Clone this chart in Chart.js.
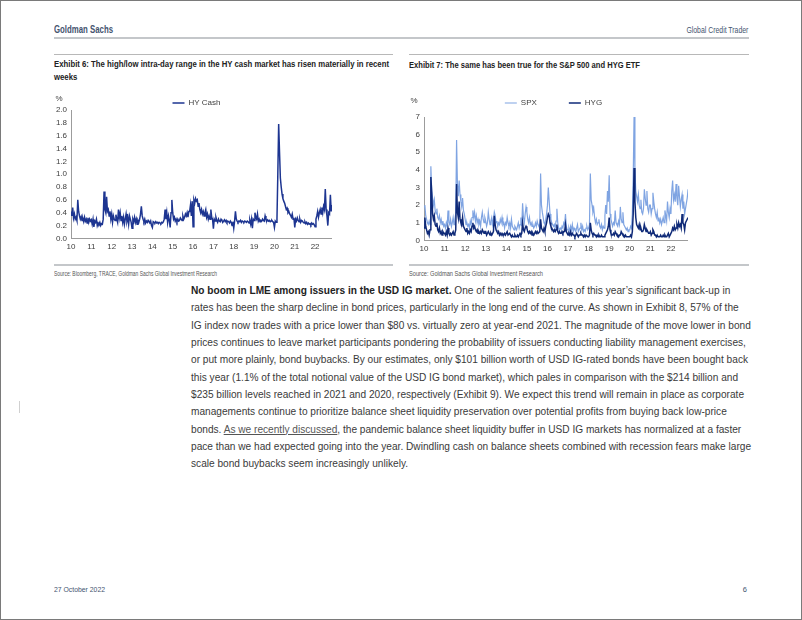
<!DOCTYPE html>
<html>
<head>
<meta charset="utf-8">
<script src="https://cdn.jsdelivr.net/npm/chart.js@4.4.0/dist/chart.umd.min.js"></script>
<style>
  html, body { margin: 0; padding: 0; background: #fff; }
  #page {
    position: relative; width: 802px; height: 620px; box-sizing: border-box;
    border: 1px solid #7a7a7a; overflow: hidden;
    font-family: "Liberation Sans", Arial, sans-serif; color: #333;
  }
  .abs { position: absolute; white-space: nowrap; }
  .slate { color: #44546f; }
  .rule { position: absolute; background: #c4c7ca; }
  .title { font-weight: bold; font-size: 9px; line-height: 13px; color: #222; }
  .source { font-size: 6.4px; color: #555; }
  #body { left: 190px; top: 281px; font-size: 10.15px; line-height: 17.35px; color: #3a3a3a; }
  #body u { color: #555; }
  .chartbox { position: absolute; }
</style>
</head>
<body>
<div id="page">
  <div class="abs slate" data-fit="59" style="left:53px; top:22px; font-size:11.5px; font-weight:bold;">Goldman Sachs</div>
  <div class="abs slate" data-fit="62" data-origin="right top" style="right:53px; top:24px; font-size:8.6px;">Global Credit Trader</div>
  <div class="rule" style="left:53px; top:36px; width:695px; height:2px;"></div>

  <div class="rule" style="left:53px; top:53px; width:339px; height:1px; background:#b8b8b8;"></div>
  <div class="rule" style="left:408px; top:53px; width:340px; height:1px; background:#b8b8b8;"></div>

  <div class="abs title" data-fit="335" style="left:53px; top:57px;">Exhibit 6: The high/low intra-day range in the HY cash market has risen materially in recent<br>weeks</div>
  <div class="abs title" data-fit="231" style="left:408px; top:58px;">Exhibit 7: The same has been true for the S&amp;P 500 and HYG ETF</div>

  <div class="chartbox" style="left:40px; top:88px; width:291px; height:170px;"><canvas id="hyChart"></canvas></div>
  <div class="chartbox" style="left:400px; top:60px; width:287px; height:200px;"><canvas id="etfChart"></canvas></div>

  <div class="rule" style="left:53px; top:263px; width:339px; height:2px;"></div>
  <div class="rule" style="left:408px; top:263px; width:340px; height:2px;"></div>
  <div class="abs source" data-fit="163" style="left:53px; top:269px;">Source: Bloomberg, TRACE, Goldman Sachs Global Investment Research</div>
  <div class="abs source" data-fit="134" style="left:408px; top:269px;">Source: Goldman Sachs Global Investment Research</div>

  <div id="body" class="abs"><b style="color:#222;">No boom in LME among issuers in the USD IG market.</b> One of the salient features of this year’s significant back-up in<br>rates has been the sharp decline in bond prices, particularly in the long end of the curve. As shown in Exhibit 8, 57% of the<br>IG index now trades with a price lower than $80 vs. virtually zero at year-end 2021. The magnitude of the move lower in bond<br>prices continues to leave market participants pondering the probability of issuers conducting liability management exercises,<br>or put more plainly, bond buybacks. By our estimates, only $101 billion worth of USD IG-rated bonds have been bought back<br>this year (1.1% of the total notional value of the USD IG bond market), which pales in comparison with the $214 billion and<br>$235 billion levels reached in 2021 and 2020, respectively (Exhibit 9). We expect this trend will remain in place as corporate<br>managements continue to prioritize balance sheet liquidity preservation over potential profits from buying back low-price<br>bonds. <u>As we recently discussed</u>, the pandemic balance sheet liquidity buffer in USD IG markets has normalized at a faster<br>pace than we had expected going into the year. Dwindling cash on balance sheets combined with recession fears make large<br>scale bond buybacks seem increasingly unlikely.</div>

  <div class="rule" style="left:18px; top:400px; width:1px; height:12px; background:#d0d0d0;"></div>

  <div class="abs slate" data-fit="51" style="left:53px; top:584px; font-size:7.5px;">27 October 2022</div>
  <div class="abs slate" style="right:54px; top:584px; font-size:7.5px;">6</div>
</div>

<script>
// x axis: years 2010..2022, two observations per month (half-monthly)
const yearTicks = [10, 11, 12, 13, 14, 15, 16, 17, 18, 19, 20, 21, 22];
const hyTicks = [0, 0.2, 0.4, 0.6, 0.8, 1.0, 1.2, 1.4, 1.6, 1.8, 2.0];
const etfTicks = [0, 1, 2, 3, 4, 5, 6, 7];

// Exhibit 6: HY cash high/low intra-day range, %
const hyCash = [
  0.42, 0.35, 0.48, 0.32, 0.38, 0.3, 0.33, 0.28, 0.6, 0.42, 0.35, 0.3, 0.34, 0.28, 0.31, 0.26, 0.33, 0.27, 0.3, 0.24, 0.32, 0.25, 0.3, 0.27, // 2010
  0.29, 0.22, 0.3, 0.18, 0.27, 0.25, 0.3, 0.2, 0.24, 0.22, 0.25, 0.2, 0.23, 0.22, 0.3, 0.73, 0.45, 0.4, 0.65, 0.42, 0.45, 0.35, 0.42, 0.3, // 2011
  0.38, 0.25, 0.35, 0.3, 0.28, 0.37, 0.3, 0.25, 0.45, 0.32, 0.4, 0.28, 0.35, 0.25, 0.33, 0.22, 0.3, 0.38, 0.27, 0.33, 0.22, 0.35, 0.3, 0.25, // 2012
  0.16, 0.3, 0.26, 0.33, 0.25, 0.3, 0.22, 0.28, 0.25, 0.3, 0.38, 0.5, 0.35, 0.3, 0.26, 0.3, 0.24, 0.27, 0.25, 0.28, 0.26, 0.24, 0.27, 0.2, // 2013
  0.17, 0.26, 0.25, 0.24, 0.26, 0.24, 0.25, 0.23, 0.25, 0.24, 0.23, 0.25, 0.24, 0.26, 0.3, 0.45, 0.3, 0.4, 0.25, 0.35, 0.28, 0.17, 0.4, 0.6, // 2014
  0.4, 0.3, 0.33, 0.27, 0.3, 0.26, 0.3, 0.27, 0.28, 0.32, 0.3, 0.28, 0.35, 0.3, 0.33, 0.38, 0.35, 0.4, 0.33, 0.42, 0.42, 0.52, 0.35, 0.58, // 2015
  0.18, 0.6, 0.55, 0.62, 0.58, 0.6, 0.5, 0.55, 0.45, 0.4, 0.45, 0.38, 0.42, 0.35, 0.4, 0.45, 0.33, 0.38, 0.3, 0.35, 0.3, 0.45, 0.33, 0.3, // 2016
  0.15, 0.3, 0.27, 0.33, 0.28, 0.25, 0.3, 0.27, 0.26, 0.3, 0.28, 0.25, 0.27, 0.29, 0.26, 0.28, 0.25, 0.27, 0.26, 0.24, 0.27, 0.25, 0.2, 0.26, // 2017
  0.16, 0.27, 0.42, 0.3, 0.27, 0.25, 0.27, 0.26, 0.28, 0.25, 0.27, 0.26, 0.25, 0.27, 0.26, 0.25, 0.27, 0.26, 0.24, 0.28, 0.22, 0.3, 0.16, 0.3, // 2018
  0.28, 0.4, 0.33, 0.3, 0.38, 0.27, 0.3, 0.26, 0.28, 0.27, 0.3, 0.28, 0.27, 0.35, 0.3, 0.27, 0.29, 0.27, 0.28, 0.26, 0.27, 0.28, 0.26, 0.25, // 2019
  0.17, 0.27, 0.25, 0.3, 1.0, 1.78, 1.35, 0.94, 0.8, 0.69, 0.62, 0.58, 0.55, 0.5, 0.45, 0.47, 0.4, 0.42, 0.38, 0.36, 0.33, 0.38, 0.3, 0.32, // 2020
  0.17, 0.3, 0.27, 0.32, 0.28, 0.26, 0.3, 0.25, 0.28, 0.27, 0.25, 0.24, 0.26, 0.23, 0.25, 0.22, 0.24, 0.22, 0.23, 0.21, 0.24, 0.22, 0.23, 0.21, // 2021
  0.18, 0.3, 0.35, 0.42, 0.33, 0.4, 0.45, 0.38, 0.48, 0.4, 0.5, 0.45, 0.77, 0.45, 0.35, 0.2, 0.4, 0.38, 0.68, 0.42, 0.52 // 2022 to Oct
];

// Exhibit 7: intra-day range, %
const spx = [
  1.9, 2.0, 1.4, 1.2, 1.0, 0.9, 1.1, 0.9, 4.2, 2.8, 2.4, 2.0, 2.3, 1.7, 1.5, 1.8, 1.3, 1.2, 1.4, 1.0, 1.2, 0.9, 1.1, 0.8, // 2010
  0.9, 0.7, 1.0, 0.8, 1.7, 1.0, 0.9, 1.2, 0.8, 1.0, 1.3, 0.9, 1.2, 1.5, 5.7, 3.2, 2.5, 3.4, 2.6, 2.2, 1.9, 2.4, 1.7, 1.5, // 2011
  1.2, 0.9, 1.0, 0.8, 0.9, 0.7, 1.1, 0.9, 1.3, 1.7, 1.3, 1.6, 1.1, 1.4, 1.0, 1.2, 0.9, 1.1, 0.8, 1.3, 1.6, 1.2, 1.0, 1.3, // 2012
  1.1, 0.8, 1.0, 1.6, 1.2, 0.9, 1.1, 1.3, 0.9, 1.2, 1.6, 1.4, 1.0, 1.1, 0.8, 1.0, 0.9, 1.2, 1.0, 1.3, 0.9, 1.0, 0.7, 1.0, // 2013
  0.9, 1.3, 1.0, 0.8, 1.0, 0.7, 1.2, 0.8, 0.7, 0.6, 0.8, 0.7, 0.6, 0.8, 1.0, 0.7, 0.9, 1.3, 0.8, 2.1, 1.3, 1.0, 1.5, 1.9, // 2014
  1.6, 1.2, 1.0, 1.3, 0.9, 1.0, 0.8, 0.9, 0.7, 0.8, 1.0, 0.8, 1.1, 0.9, 0.8, 0.7, 3.8, 2.0, 1.6, 1.3, 1.0, 0.9, 1.2, 1.5, // 2015
  2.0, 3.0, 2.2, 1.5, 1.2, 1.0, 0.9, 0.8, 0.9, 0.7, 1.1, 1.8, 1.0, 0.7, 0.6, 0.7, 0.6, 0.8, 0.7, 1.0, 0.9, 1.5, 0.8, 0.6, // 2016
  0.6, 0.7, 0.5, 0.8, 0.6, 0.9, 0.5, 0.7, 0.6, 0.5, 0.7, 0.9, 0.5, 0.6, 0.7, 1.0, 0.6, 0.8, 0.5, 0.6, 0.5, 0.7, 0.8, 0.6, // 2017
  0.7, 0.9, 3.8, 2.3, 2.0, 1.6, 1.8, 1.3, 1.0, 1.2, 0.9, 1.0, 1.2, 0.8, 0.7, 0.9, 0.6, 0.8, 0.7, 1.4, 2.0, 1.5, 2.8, 2.2, // 2018
  3.7, 1.5, 1.2, 1.0, 0.8, 1.0, 0.9, 1.7, 1.0, 0.9, 0.8, 1.1, 0.9, 1.9, 1.2, 1.0, 1.6, 0.9, 0.8, 0.7, 0.6, 0.7, 0.5, 0.6, // 2019
  0.6, 0.8, 0.7, 1.5, 3.5, 7.0, 4.0, 2.8, 2.5, 2.2, 2.6, 2.0, 1.8, 2.3, 1.6, 1.5, 1.8, 2.9, 2.4, 2.0, 2.8, 1.8, 1.6, 2.0, // 2020
  2.0, 1.5, 1.8, 2.7, 2.2, 1.8, 1.5, 1.3, 1.6, 1.1, 1.3, 1.0, 1.2, 0.9, 1.1, 1.3, 1.0, 1.7, 1.4, 1.1, 2.2, 1.6, 1.3, 1.8, // 2021
  1.5, 2.8, 3.4, 2.3, 2.6, 2.2, 3.2, 2.4, 2.0, 3.1, 2.5, 1.9, 2.3, 2.6, 1.8, 2.2, 1.5, 1.8, 2.1, 2.4, 2.9 // 2022 to Oct
];

const hyg = [
  0.7, 1.3, 0.8, 0.6, 0.4, 0.5, 0.3, 0.6, 3.6, 2.7, 1.5, 1.2, 1.4, 0.9, 0.8, 1.0, 0.6, 0.5, 0.7, 0.4, 0.5, 0.3, 0.5, 0.4, // 2010
  0.4, 0.3, 0.5, 0.3, 0.7, 0.4, 0.3, 0.4, 0.3, 0.4, 0.5, 0.3, 0.4, 0.6, 3.2, 1.6, 1.3, 2.2, 1.2, 1.0, 0.9, 1.3, 0.8, 0.7, // 2011
  0.6, 0.5, 0.7, 0.4, 0.5, 0.4, 0.6, 0.5, 0.8, 1.0, 0.7, 0.8, 0.6, 0.5, 0.6, 0.4, 0.5, 0.4, 0.5, 0.4, 0.6, 0.5, 0.4, 0.5, // 2012
  0.5, 0.3, 0.4, 0.5, 0.4, 0.3, 0.4, 0.3, 0.4, 0.5, 1.4, 0.9, 0.6, 0.5, 0.4, 0.5, 0.3, 0.4, 0.3, 0.4, 0.3, 0.3, 0.4, 0.3, // 2013
  0.4, 0.5, 0.3, 0.3, 0.4, 0.3, 0.2, 0.3, 0.2, 0.2, 0.3, 0.2, 0.2, 0.3, 0.2, 0.3, 0.4, 0.3, 0.4, 1.0, 0.6, 0.5, 0.7, 0.8, // 2014
  0.7, 0.5, 0.4, 0.5, 0.4, 0.5, 0.3, 0.4, 0.3, 0.4, 0.5, 0.4, 0.5, 0.4, 0.4, 0.5, 1.2, 0.7, 0.6, 0.5, 0.7, 0.5, 0.8, 1.0, // 2015
  1.3, 1.5, 1.4, 1.0, 0.8, 0.7, 0.6, 0.5, 0.6, 0.5, 0.6, 0.9, 0.5, 0.4, 0.5, 0.4, 0.4, 0.5, 0.4, 0.5, 0.5, 0.9, 0.5, 0.4, // 2016
  0.3, 0.4, 0.3, 0.5, 0.3, 0.4, 0.3, 0.3, 0.2, 0.3, 0.4, 0.3, 0.2, 0.3, 0.3, 0.4, 0.3, 0.3, 0.2, 0.3, 0.2, 0.3, 0.3, 0.2, // 2017
  0.2, 0.3, 1.0, 0.6, 0.4, 0.3, 0.4, 0.3, 0.3, 0.2, 0.3, 0.2, 0.3, 0.2, 0.2, 0.3, 0.2, 0.2, 0.2, 0.3, 0.4, 0.5, 0.6, 0.8, // 2018
  1.3, 0.6, 0.4, 0.3, 0.3, 0.4, 0.3, 0.5, 0.4, 0.3, 0.3, 0.2, 0.3, 0.3, 0.5, 0.4, 0.3, 0.3, 0.2, 0.3, 0.2, 0.2, 0.2, 0.2, // 2019
  0.2, 0.3, 0.2, 0.5, 1.5, 4.1, 2.2, 1.3, 0.9, 0.8, 0.7, 0.9, 0.6, 0.7, 0.5, 0.5, 0.6, 0.9, 0.7, 0.5, 0.6, 0.5, 0.4, 0.4, // 2020
  0.5, 0.3, 0.4, 0.6, 0.5, 0.3, 0.3, 0.2, 0.3, 0.2, 0.2, 0.2, 0.3, 0.2, 0.2, 0.3, 0.2, 0.3, 0.2, 0.2, 0.3, 0.4, 0.2, 0.3, // 2021
  0.3, 0.5, 0.7, 0.6, 0.8, 0.6, 0.7, 0.9, 0.7, 1.0, 0.8, 0.9, 0.7, 1.5, 1.0, 0.9, 0.6, 1.0, 1.1, 1.2, 1.3 // 2022 to Oct
];

// squeeze the report's condensed headings to the widths they take in the original
document.querySelectorAll('[data-fit]').forEach((el) => {
  const w = el.getBoundingClientRect().width;
  el.style.transformOrigin = el.dataset.origin || 'left top';
  el.style.transform = `scaleX(${Number(el.dataset.fit) / w})`;
});

const periods = hyCash.map((_, i) => yearTicks[0] + i / 24);
const toPoints = (values) => values.map((v, i) => ({ x: periods[i], y: v }));

const tickFont = { family: '"Liberation Sans", Arial, sans-serif', size: 8 };
const tickColor = '#404040';
const axisColor = '#9c9c9c';

// draws the "%" unit above the y axis
const unitLabel = {
  id: 'unitLabel',
  afterDraw(chart, args, opts) {
    const { ctx, chartArea } = chart;
    ctx.save();
    ctx.font = '8px "Liberation Sans", Arial, sans-serif';
    ctx.fillStyle = tickColor;
    ctx.textAlign = 'center';
    ctx.textBaseline = 'middle';
    ctx.fillText(opts.text, chartArea.left + opts.dx, chartArea.top + opts.dy);
    ctx.restore();
  },
};

// moves the legend: trims its height and nudges it sideways
function nudgeLegend(dh, dx) {
  return {
    id: 'nudgeLegend',
    beforeInit(chart) {
      const fit = chart.legend.fit;
      chart.legend.fit = function () {
        fit.call(this);
        this.height -= dh;
      };
    },
    afterLayout(chart) {
      chart.legend.left += dx;
      chart.legend.right += dx;
    },
  };
}

function xAxis() {
  return {
    type: 'linear',
    min: yearTicks[0],
    max: 22.83,
    grid: { display: false, drawTicks: false },
    border: { display: true, color: axisColor, width: 1 },
    afterBuildTicks(scale) { scale.ticks = yearTicks.map((v) => ({ value: v })); },
    ticks: { font: tickFont, color: tickColor, padding: 4, maxRotation: 0, autoSkip: false, callback: (v) => String(v) },
  };
}

function yAxis(ticks, width, decimals) {
  return {
    min: ticks[0],
    max: ticks[ticks.length - 1],
    grid: { display: false, drawTicks: false },
    border: { display: true, color: axisColor, width: 1 },
    afterBuildTicks(scale) { scale.ticks = ticks.map((v) => ({ value: v })); },
    afterFit(scale) { scale.width = width; },
    ticks: { font: tickFont, color: tickColor, padding: 4, autoSkip: false, callback: (v) => Number(v).toFixed(decimals) },
  };
}

function legendOpts(padding) {
  return {
    position: 'top',
    labels: {
      font: tickFont, color: tickColor, padding,
      usePointStyle: true, pointStyle: 'line', pointStyleWidth: 12,
      sort: (a, b) => a.datasetIndex - b.datasetIndex,
    },
  };
}

Chart.defaults.devicePixelRatio = 1;

new Chart(document.getElementById('hyChart'), {
  type: 'line',
  data: {
    datasets: [{
      label: 'HY Cash',
      data: toPoints(hyCash),
      borderColor: '#1d3591',
      borderWidth: 1.5,
      pointRadius: 0,
      tension: 0,
    }],
  },
  options: {
    responsive: true,
    maintainAspectRatio: false,
    animation: false,
    layout: { padding: { top: 10, left: 10, right: 0, bottom: 3 } },
    plugins: {
      legend: legendOpts(0),
      tooltip: { enabled: false },
      unitLabel: { text: '%', dx: -12, dy: -11 },
    },
    scales: { x: xAxis(), y: yAxis(hyTicks, 20, 1) },
  },
  plugins: [unitLabel, nudgeLegend(7, 5)],
});

new Chart(document.getElementById('etfChart'), {
  type: 'line',
  data: {
    datasets: [
      {
        label: 'SPX',
        data: toPoints(spx),
        borderColor: '#7fa4e2',
        borderWidth: 1.2,
        pointRadius: 0,
        tension: 0,
        order: 1,
      },
      {
        label: 'HYG',
        data: toPoints(hyg),
        borderColor: '#0f2a78',
        borderWidth: 1.5,
        pointRadius: 0,
        tension: 0,
        order: 0,
      },
    ],
  },
  options: {
    responsive: true,
    maintainAspectRatio: false,
    animation: false,
    layout: { padding: { top: 6, left: 9, right: 0, bottom: 3 } },
    plugins: {
      legend: legendOpts(32),
      tooltip: { enabled: false },
      unitLabel: { text: '%', dx: -10, dy: -16 },
    },
    scales: { x: xAxis(), y: yAxis(etfTicks, 14, 0) },
  },
  plugins: [unitLabel, nudgeLegend(0, 4.5)],
});
</script>
</body>
</html>
